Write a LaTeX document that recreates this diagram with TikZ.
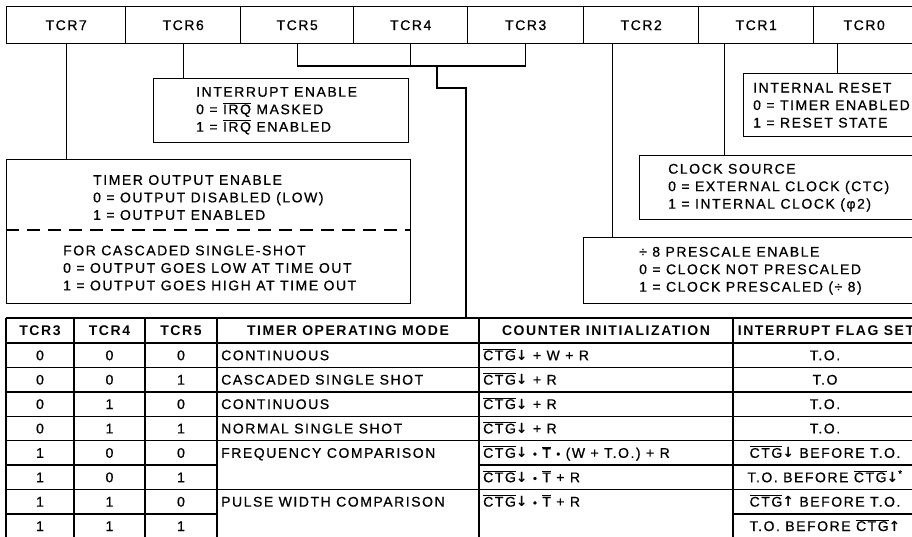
\documentclass[tikz,border=0pt]{standalone}
\usepackage{fontspec}
\setmainfont{Liberation Sans}[LetterSpace=11, UprightFeatures={FakeBold=0.7}]
\newfontfamily\arrowfont{DejaVu Sans}
\usetikzlibrary{positioning}
\newcommand{\regfont}{\fontsize{14}{17.5}\selectfont}
\newcommand{\ovl}[1]{$\overline{\hbox{#1}}$}
\newcommand{\dn}{{\arrowfont\bfseries ↓}}
\newcommand{\up}{{\arrowfont\bfseries ↑}}
\newcommand{\dotop}{\scalebox{0.8}{•}}
\tikzset{
  regcell/.style={draw, line width=1.4pt, minimum height=37pt, inner sep=0pt, anchor=north west},
  regbox/.style={draw, line width=1.4pt, inner sep=0pt, anchor=north west},
  boxtext/.style={align=left, inner sep=0pt, anchor=west},
  celltext/.style={inner sep=0pt, anchor=base},
  link/.style={line width=1.4pt}
}
\begin{document}
\begin{tikzpicture}[x=1pt,y=-1pt,font=\regfont]
\useasboundingbox (0,0) rectangle (912,537);
\clip (0,0) rectangle (912,537);
% register bits
\foreach \n/\x/\w in {7/6/119,6/125/115,5/240/113,4/353/114,3/467/116,2/583/115,1/698/115,0/813/101}
  \node[regcell, minimum width=\w pt] (tcr\n) at (\x,6) {TCR\n};
% bit descriptions
\node[regbox, minimum width=255pt, minimum height=64pt] (irqbox) at (153,78) {};
\node[regbox, minimum width=404pt, minimum height=144pt] (outbox) at (6,159) {};
\node[regbox, minimum width=200pt, minimum height=63pt] (resetbox) at (743,73) {};
\node[regbox, minimum width=300pt, minimum height=64pt] (clkbox) at (639,155) {};
\node[regbox, minimum width=360pt, minimum height=66pt] (prebox) at (583,237) {};
\node[boxtext, right=43pt of irqbox.west] (irqtext) {INTERRUPT ENABLE\\0 = \ovl{IRQ} MASKED\\1 = \ovl{IRQ} ENABLED};
\node[boxtext] (outtop) at ([xshift=87pt,yshift=-38.5pt]outbox.north west) {TIMER OUTPUT ENABLE\\0 = OUTPUT DISABLED (LOW)\\1 = OUTPUT ENABLED};
\node[boxtext] (outbot) at ([xshift=57pt,yshift=-109pt]outbox.north west) {FOR CASCADED SINGLE-SHOT\\0 = OUTPUT GOES LOW AT TIME OUT\\1 = OUTPUT GOES HIGH AT TIME OUT};
\draw[link, dash pattern=on 13pt off 8pt] ([yshift=-71pt]outbox.north west) -- ([yshift=-71pt]outbox.north east);
\node[boxtext, right=10pt of resetbox.west] (resettext) {INTERNAL RESET\\0 = TIMER ENABLED\\1 = RESET STATE};
\node[boxtext, right=29pt of clkbox.west] (clktext) {CLOCK SOURCE\\0 = EXTERNAL CLOCK (CTC)\\1 = INTERNAL CLOCK (φ2)};
\node[boxtext, right=56pt of prebox.west] (pretext) {÷ 8 PRESCALE ENABLE\\0 = CLOCK NOT PRESCALED\\1 = CLOCK PRESCALED (÷ 8)};
% connectors
\draw[link] (tcr7.south) -- (tcr7.south |- outbox.north);
\draw[link] (tcr6.south) -- (tcr6.south |- irqbox.north);
\draw[link] ([xshift=-28.5pt]tcr2.south) -- ([xshift=-28.5pt]tcr2.south |- prebox.north);
\draw[link] ([xshift=-31.5pt]tcr1.south) -- ([xshift=-31.5pt]tcr1.south |- clkbox.north);
\draw[link] ([xshift=-26.5pt]tcr0.south) -- ([xshift=-26.5pt]tcr0.south |- resetbox.north);
\coordinate (bus) at (437,66);
\coordinate (modetab) at (466,318);
\draw[link] (tcr5.south) |- (bus -| tcr3.south) -- (tcr3.south);
\draw[link] (tcr4.south) -- (tcr4.south |- bus);
\draw[link] (bus) -- ++(0,22) -| (modetab);
% mode table
\draw[link] (6,318) -- (920,318);
\foreach \x in {6,74,145,217,479,733} \draw[link] (\x,318) -- (\x,540);
\foreach \y in {343,367.4,391.8,416.2,440.6,489.4} \draw[link] (6,\y) -- (920,\y);
\draw[link] (6,465) -- (217,465) (479,465) -- (920,465);
\draw[link] (6,513.8) -- (217,513.8) (733,513.8) -- (920,513.8);
\foreach \x/\t [count=\i] in {40/TCR3,109.5/TCR4,181/TCR5,348/TIMER OPERATING MODE,606/COUNTER INITIALIZATION,826/INTERRUPT FLAG SET}
  \node[celltext, font=\regfont\bfseries] (head\i) at (\x,335.5) {\t};
\foreach \a/\b/\c [count=\r] in {0/0/0,0/0/1,0/1/0,0/1/1,1/0/0,1/0/1,1/1/0,1/1/1} {
  \node[celltext] (bita\r) at (40,{335.8+\r*24.4}) {\a};
  \node[celltext] (bitb\r) at (109.5,{335.8+\r*24.4}) {\b};
  \node[celltext] (bitc\r) at (181,{335.8+\r*24.4}) {\c};
}
\foreach \r/\t in {1/CONTINUOUS,2/CASCADED SINGLE SHOT,3/CONTINUOUS,4/NORMAL SINGLE SHOT,5/FREQUENCY COMPARISON,7/PULSE WIDTH COMPARISON}
  \node[celltext, anchor=base west] (mode\r) at (221,{335.8+\r*24.4}) {\t};
\foreach \r/\t in {1/\ovl{CTG}\dn{} + W + R,2/\ovl{CTG}\dn{} + R,3/\ovl{CTG}\dn{} + R,4/\ovl{CTG}\dn{} + R,5/\ovl{CTG}\dn{} \dotop{} \ovl{T} \dotop{} (W + T.O.) + R,6/\ovl{CTG}\dn{} \dotop{} \ovl{T} + R,7/\ovl{CTG}\dn{} \dotop{} \ovl{T} + R}
  \node[celltext, anchor=base west] (init\r) at (483,{335.8+\r*24.4}) {\t};
\foreach \r/\t in {1/T.O.,2/T.O,3/T.O.,4/T.O.,5/\ovl{CTG}\dn{} BEFORE T.O.,6/T.O. BEFORE \ovl{CTG}\dn\textsuperscript{*},7/\ovl{CTG}\up{} BEFORE T.O.,8/T.O. BEFORE \ovl{CTG}\up}
  \node[celltext] (flag\r) at (825,{335.8+\r*24.4}) {\t};
\end{tikzpicture}
\end{document}
